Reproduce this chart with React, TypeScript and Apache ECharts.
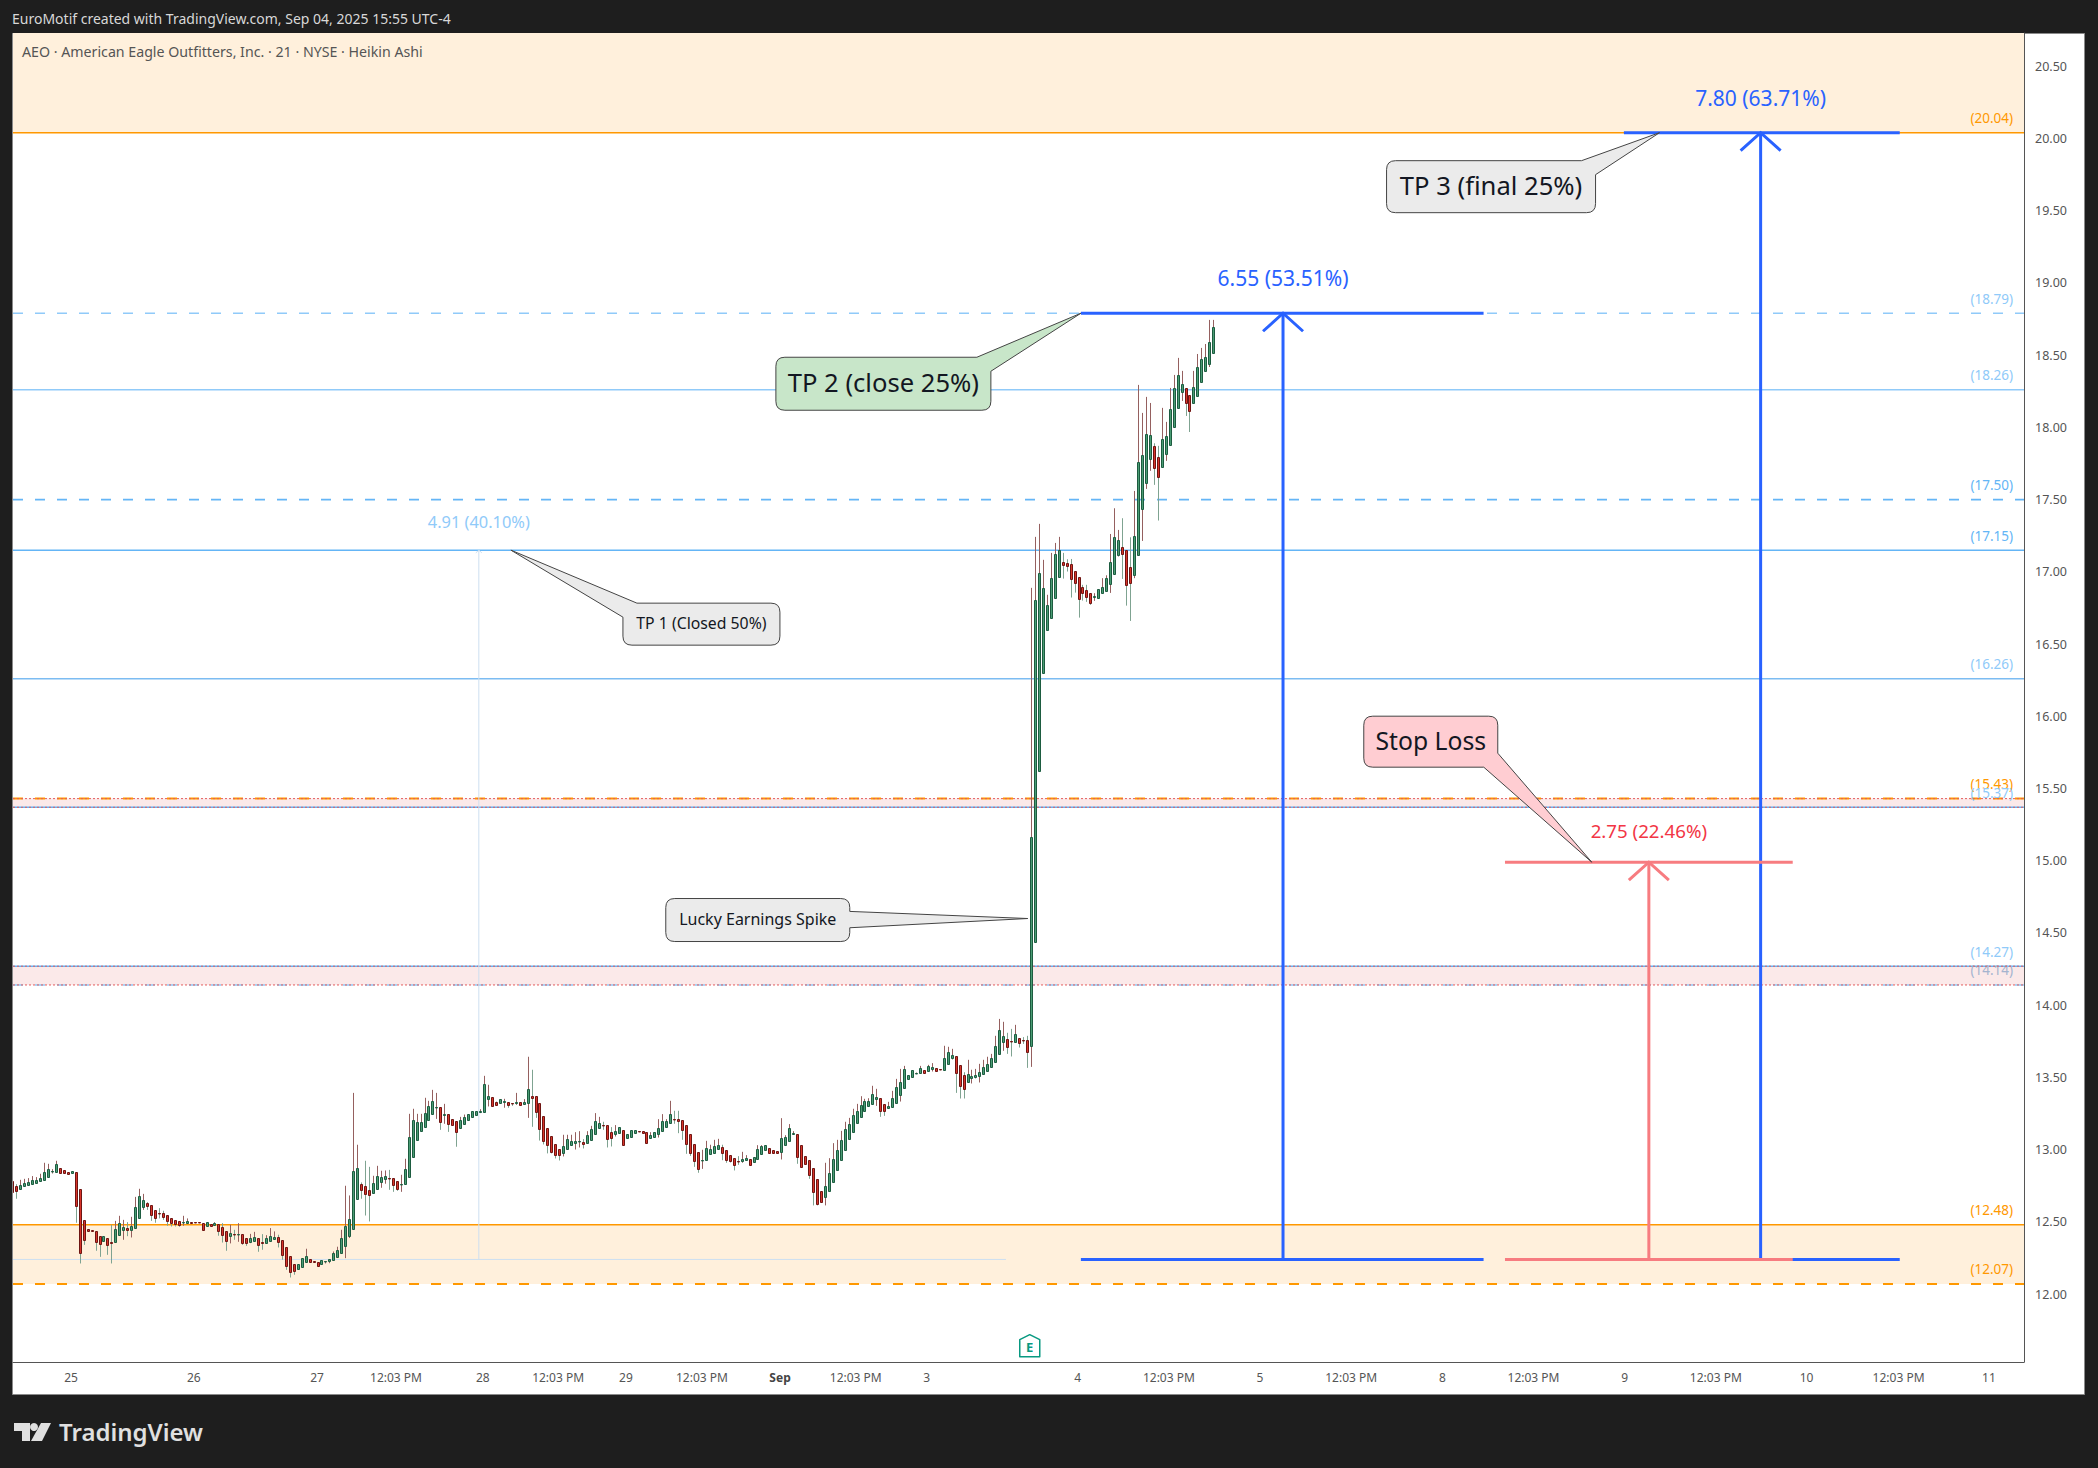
import React, { useEffect, useRef } from "react";
import * as echarts from "echarts";

// Heikin Ashi bars: [open, close, low, high]
const candles = [
	[12.78,12.71,12.71,12.78],[12.747,12.715,12.66,12.761],[12.731,12.754,12.731,12.791],[12.745,12.768,12.745,12.798],[12.752,12.775,12.752,12.803],
	[12.759,12.789,12.759,12.817],[12.768,12.787,12.763,12.81],[12.78,12.803,12.78,12.833],[12.793,12.844,12.793,12.909],[12.814,12.865,12.814,12.902],
	[12.849,12.851,12.835,12.865],[12.842,12.9,12.842,12.923],[12.872,12.835,12.835,12.872],[12.858,12.835,12.835,12.858],[12.844,12.828,12.828,12.844],
	[12.835,12.851,12.835,12.851],[12.844,12.613,12.494,12.844],[12.727,12.288,12.212,12.727],[12.512,12.378,12.341,12.512],[12.45,12.434,12.434,12.45],
	[12.443,12.44,12.431,12.443],[12.436,12.364,12.3,12.436],[12.401,12.344,12.258,12.401],[12.371,12.401,12.371,12.401],[12.387,12.337,12.272,12.387],
	[12.36,12.351,12.212,12.48],[12.36,12.45,12.36,12.507],[12.406,12.491,12.406,12.542],[12.447,12.464,12.376,12.514],[12.457,12.447,12.401,12.498],
	[12.447,12.47,12.392,12.535],[12.461,12.602,12.461,12.673],[12.53,12.678,12.53,12.729],[12.6,12.65,12.583,12.694],[12.63,12.607,12.583,12.637],
	[12.616,12.551,12.507,12.616],[12.581,12.524,12.494,12.581],[12.56,12.558,12.524,12.595],[12.56,12.537,12.514,12.577],[12.547,12.503,12.473,12.547],
	[12.526,12.489,12.468,12.526],[12.512,12.487,12.468,12.512],[12.505,12.48,12.466,12.505],[12.496,12.498,12.473,12.542],[12.489,12.505,12.489,12.524],
	[12.498,12.489,12.489,12.498],[12.498,12.496,12.496,12.498],[12.498,12.496,12.496,12.498],[12.489,12.447,12.447,12.489],[12.468,12.496,12.468,12.496],
	[12.484,12.468,12.468,12.484],[12.475,12.491,12.475,12.498],[12.484,12.44,12.404,12.484],[12.464,12.406,12.357,12.491],[12.436,12.371,12.3,12.436],
	[12.399,12.422,12.351,12.48],[12.415,12.413,12.376,12.445],[12.413,12.415,12.362,12.491],[12.415,12.357,12.341,12.415],[12.387,12.351,12.334,12.387],
	[12.364,12.39,12.353,12.417],[12.371,12.394,12.362,12.431],[12.387,12.337,12.293,12.387],[12.36,12.357,12.307,12.415],[12.357,12.387,12.357,12.408],
	[12.371,12.401,12.371,12.457],[12.383,12.394,12.376,12.434],[12.397,12.358,12.323,12.411],[12.374,12.274,12.238,12.374],[12.325,12.198,12.168,12.325],
	[12.263,12.15,12.115,12.263],[12.208,12.157,12.134,12.208],[12.175,12.208,12.175,12.208],[12.191,12.249,12.191,12.249],[12.221,12.263,12.221,12.314],
	[12.242,12.219,12.219,12.242],[12.228,12.219,12.219,12.228],[12.221,12.198,12.198,12.221],[12.21,12.235,12.21,12.235],[12.226,12.228,12.212,12.228],
	[12.226,12.242,12.214,12.242],[12.233,12.284,12.233,12.295],[12.254,12.304,12.254,12.328],[12.284,12.39,12.284,12.445],[12.33,12.471,12.249,12.75],
	[12.399,12.519,12.388,12.683],[12.454,12.851,12.454,13.393],[12.655,12.872,12.655,13.034],[12.761,12.724,12.66,12.773],[12.75,12.692,12.544,12.923],
	[12.72,12.683,12.503,12.881],[12.697,12.768,12.697,12.819],[12.731,12.817,12.731,12.888],[12.775,12.81,12.736,12.854],[12.794,12.817,12.764,12.856],
	[12.803,12.801,12.722,12.86],[12.803,12.752,12.708,12.803],[12.782,12.731,12.715,12.782],[12.759,12.761,12.708,12.826],[12.759,12.865,12.759,12.937],
	[12.814,13.087,12.814,13.248],[12.946,13.204,12.946,13.283],[13.07,13.19,13.07,13.248],[13.126,13.19,13.126,13.248],[13.16,13.253,13.16,13.359],
	[13.202,13.301,13.202,13.338],[13.25,13.336,13.25,13.414],[13.292,13.294,13.213,13.393],[13.294,13.188,13.137,13.294],[13.243,13.246,13.179,13.317],
	[13.246,13.181,13.123,13.246],[13.211,13.172,13.172,13.211],[13.197,13.119,13.02,13.197],[13.153,13.204,13.153,13.227],[13.181,13.225,13.181,13.243],
	[13.202,13.246,13.202,13.246],[13.223,13.267,13.223,13.267],[13.243,13.267,13.243,13.267],[13.264,13.267,13.253,13.28],[13.26,13.453,13.26,13.511],
	[13.354,13.37,13.299,13.449],[13.363,13.299,13.299,13.363],[13.333,13.306,13.306,13.333],[13.32,13.35,13.32,13.35],[13.333,13.336,13.29,13.352],
	[13.329,13.306,13.29,13.329],[13.322,13.32,13.303,13.322],[13.32,13.333,13.31,13.393],[13.329,13.306,13.306,13.329],[13.313,13.329,13.313,13.35],
	[13.32,13.419,13.22,13.643],[13.368,13.361,13.158,13.553],[13.37,13.264,13.22,13.37],[13.322,13.14,13.063,13.322],[13.232,13.063,13.036,13.232],
	[13.147,13.029,12.974,13.147],[13.093,12.987,12.974,13.093],[13.038,12.96,12.939,13.038],[13.004,12.96,12.925,13.004],[12.98,13.024,12.953,13.103],
	[13.004,13.073,13.004,13.103],[13.031,13.059,13.027,13.103],[13.043,13.059,13.001,13.121],[13.057,13.059,13.015,13.128],[13.052,13.036,13.008,13.073],
	[13.043,13.1,13.043,13.128],[13.07,13.142,13.07,13.165],[13.105,13.197,13.105,13.253],[13.153,13.183,13.153,13.227],[13.172,13.17,13.137,13.193],
	[13.17,13.077,13.015,13.17],[13.121,13.084,13.022,13.156],[13.105,13.128,13.091,13.17],[13.112,13.156,13.112,13.156],[13.135,13.029,13.029,13.135],
	[13.084,13.107,13.084,13.107],[13.091,13.135,13.091,13.135],[13.112,13.135,13.112,13.135],[13.128,13.126,13.126,13.128],[13.128,13.112,13.112,13.128],
	[13.121,13.043,13.043,13.121],[13.084,13.1,13.084,13.121],[13.091,13.121,13.091,13.121],[13.105,13.149,13.084,13.211],[13.126,13.197,13.126,13.246],
	[13.16,13.197,13.16,13.211],[13.183,13.246,13.183,13.338],[13.211,13.209,13.179,13.269],[13.211,13.195,13.114,13.269],[13.204,13.133,13.068,13.204],
	[13.17,13.036,12.971,13.17],[13.107,12.974,12.957,13.107],[13.038,12.918,12.881,13.038],[12.983,12.863,12.84,12.983],[12.925,12.927,12.867,12.999],
	[12.925,13.01,12.925,13.061],[12.967,13.004,12.967,13.034],[12.98,13.024,12.98,13.068],[13.004,13.031,13.004,13.075],[13.017,12.974,12.927,13.034],
	[12.997,12.925,12.909,12.997],[12.962,12.918,12.911,12.962],[12.941,12.897,12.856,12.941],[12.92,12.918,12.895,12.955],[12.918,12.934,12.909,12.985],
	[12.925,12.941,12.925,12.962],[12.934,12.897,12.897,12.934],[12.914,12.948,12.914,12.948],[12.934,13.004,12.934,13.031],[12.967,13.024,12.967,13.031],
	[12.997,13.031,12.997,13.031],[13.01,12.974,12.974,13.01],[12.997,12.974,12.974,12.997],[12.99,12.974,12.974,12.99],[12.983,13.08,12.932,13.218],
	[13.031,13.087,13.031,13.1],[13.059,13.149,13.059,13.177],[13.105,13.114,13.105,13.128],[13.107,12.948,12.902,13.107],[13.031,12.879,12.879,13.031],
	[12.955,12.9,12.9,12.955],[12.927,12.824,12.798,12.927],[12.872,12.71,12.614,12.872],[12.796,12.627,12.614,12.796],[12.713,12.637,12.637,12.713],
	[12.669,12.747,12.614,12.909],[12.713,12.837,12.713,12.941],[12.775,12.934,12.775,13.045],[12.858,12.997,12.858,13.068],[12.927,13.066,12.927,13.13],
	[12.997,13.142,12.997,13.193],[13.073,13.176,13.073,13.22],[13.121,13.239,13.121,13.283],[13.183,13.266,13.183,13.317],[13.225,13.308,13.225,13.37],
	[13.266,13.336,13.266,13.352],[13.301,13.336,13.301,13.356],[13.315,13.384,13.315,13.442],[13.35,13.363,13.303,13.421],[13.356,13.271,13.227,13.356],
	[13.315,13.266,13.234,13.315],[13.287,13.301,13.287,13.331],[13.294,13.356,13.294,13.407],[13.322,13.433,13.322,13.49],[13.377,13.467,13.333,13.559],
	[13.426,13.557,13.426,13.58],[13.488,13.516,13.488,13.516],[13.502,13.55,13.502,13.55],[13.529,13.534,13.529,13.534],[13.529,13.564,13.529,13.58],
	[13.55,13.534,13.534,13.55],[13.541,13.578,13.541,13.587],[13.557,13.571,13.541,13.599],[13.564,13.543,13.543,13.564],[13.557,13.555,13.555,13.557],
	[13.55,13.633,13.55,13.719],[13.592,13.675,13.592,13.712],[13.633,13.654,13.624,13.698],[13.647,13.529,13.393,13.647],[13.585,13.439,13.354,13.585],
	[13.516,13.423,13.354,13.536],[13.467,13.523,13.467,13.622],[13.493,13.509,13.458,13.553],[13.502,13.516,13.493,13.559],[13.509,13.536,13.465,13.594],
	[13.523,13.571,13.523,13.622],[13.543,13.592,13.543,13.643],[13.571,13.633,13.571,13.663],[13.606,13.716,13.606,13.788],[13.661,13.827,13.661,13.905],
	[13.744,13.786,13.684,13.885],[13.765,13.714,13.663,13.809],[13.751,13.749,13.645,13.836],[13.744,13.799,13.744,13.864],[13.772,13.737,13.707,13.772],
	[13.758,13.756,13.732,13.779],[13.758,13.679,13.566,13.788],[13.716,15.163,13.573,16.889],[14.434,16.804,14.434,17.242],[15.618,16.99,15.618,17.332],
	[16.303,16.887,16.303,17.083],[16.594,16.769,16.594,16.841],[16.679,16.956,16.679,17.131],[16.817,17.122,16.817,17.2],[16.967,17.154,16.967,17.242],
	[17.066,17.05,16.953,17.131],[17.059,17.043,17.002,17.087],[17.053,16.953,16.822,17.089],[17.004,16.926,16.856,17.004],[16.963,16.815,16.683,16.963],
	[16.893,16.856,16.801,16.91],[16.873,16.829,16.792,16.91],[16.852,16.787,16.771,16.852],[16.824,16.831,16.799,16.852],[16.822,16.88,16.822,16.88],
	[16.85,16.893,16.85,16.956],[16.87,16.956,16.87,16.976],[16.914,17.066,16.854,17.262],[16.988,17.239,16.988,17.44],[17.113,17.219,17.106,17.29],
	[17.17,17.126,16.951,17.371],[17.149,16.912,16.766,17.149],[17.032,16.926,16.66,17.239],[16.976,17.246,16.956,17.56],[17.113,17.758,17.113,18.294],
	[17.433,17.807,17.214,18.1],[17.618,17.952,17.574,18.211],[17.784,17.945,17.699,18.169],[17.869,17.722,17.602,17.89],[17.793,17.659,17.355,17.872],
	[17.728,17.918,17.728,18.135],[17.818,17.938,17.768,18.038],[17.881,18.125,17.881,18.273],[18.005,18.271,18.005,18.363],[18.137,18.361,18.137,18.481],
	[18.248,18.298,18.183,18.391],[18.271,18.171,18.079,18.271],[18.222,18.116,17.968,18.222],[18.171,18.278,18.171,18.391],[18.22,18.416,18.22,18.508],
	[18.317,18.471,18.317,18.55],[18.393,18.485,18.393,18.577],[18.441,18.589,18.418,18.744],[18.513,18.693,18.513,18.744],
];

const priceTicks = [12, 12.5, 13, 13.5, 14, 14.5, 15, 15.5, 16, 16.5, 17, 17.5, 18, 18.5, 19, 19.5, 20, 20.5];
const timeTickBars = [14.8, 45.8, 76.9, 96.8, 118.7, 137.7, 154.8, 174, 193.7, 212.8, 230.7, 268.8, 291.8, 314.8, 337.8, 360.8, 383.8, 406.8, 429.8, 452.7, 475.9, 498.7];
const timeTickLabels = ["25", "26", "27", "12:03 PM", "28", "12:03 PM", "29", "12:03 PM", "Sep", "12:03 PM", "3", "4", "12:03 PM", "5", "12:03 PM", "8", "12:03 PM", "9", "12:03 PM", "10", "12:03 PM", "11"];

const levelPrices = [20.04, 18.79, 18.26, 17.5, 17.15, 16.26, 15.43, 15.37, 14.27, 14.14, 12.48, 12.07];
const levelLabels = ["(20.04)", "(18.79)", "(18.26)", "(17.50)", "(17.15)", "(16.26)", "(15.43)", "(15.37)", "(14.27)", "(14.14)", "(12.48)", "(12.07)"];

const bandLows = [20.04, 15.37, 14.14, 12.07];
const bandHighs = [20.73, 15.43, 14.27, 12.48];

const tradeLabels = ["4.91 (40.10%)", "6.55 (53.51%)", "7.80 (63.71%)", "2.75 (22.46%)"];
const tradeTops = [17.15, 18.79, 20.04, 14.99];
const tradeBase = 12.24;
const tradeStartBars = [0.17, 269.6, 406.6, 376.6];
const tradeEndBars = [250.7, 371.2, 476.2, 449.2];
const tradeMidBars = [117.7, 320.6, 441.1, 412.9];

const calloutTexts = ["TP 1 (Closed 50%)", "TP 2 (close 25%)", "TP 3 (final 25%)", "Lucky Earnings Spike", "Stop Loss"];
const calloutTipBars = [125.8, 269.6, 415.6, 256.2, 398.5];
const calloutTipPrices = [17.15, 18.79, 20.04, 14.6, 14.99];

const FONT = "'Noto Sans'";
const BLUE = "#2962ff";
const ORANGE = "#ff9800";
const SKY = "#90caf9";
const MID_BLUE = "#64b5f6";

const levelLooks = [
	{ color: ORANGE, width: 1.5, dash: null, text: ORANGE },
	{ color: SKY, width: 1.5, dash: [10, 12], text: SKY },
	{ color: SKY, width: 1.5, dash: null, text: SKY },
	{ color: MID_BLUE, width: 1.8, dash: [10, 12], text: MID_BLUE },
	{ color: MID_BLUE, width: 1.5, dash: null, text: MID_BLUE },
	{ color: "#7cbcf2", width: 1.4, dash: null, text: SKY },
	{ color: ORANGE, width: 2, dash: [10, 12], text: ORANGE },
	{ color: MID_BLUE, width: 1.5, dash: null, text: SKY },
	{ color: MID_BLUE, width: 1.5, dash: null, text: SKY },
	{ color: SKY, width: 1.5, dash: [10, 12], text: "#a5b4cf" },
	{ color: ORANGE, width: 1.5, dash: null, text: ORANGE },
	{ color: ORANGE, width: 2, dash: [10, 12], text: ORANGE },
];

const bandLooks = [
	{ fill: "#fff0dc", edge: null },
	{ fill: "#fbe9e9", edge: "#e35d5d" },
	{ fill: "#fbe9e9", edge: "#e35d5d" },
	{ fill: "#fff0dc", edge: null },
];

const tradeLooks = [
	{ line: "#cddff0", width: 1, text: SKY, size: 16.4, gap: 29, head: 3 },
	{ line: BLUE, width: 3, text: BLUE, size: 21, gap: 35, head: 20 },
	{ line: BLUE, width: 3, text: BLUE, size: 21, gap: 35, head: 20 },
	{ line: "#f77c80", width: 3, text: "#f23645", size: 18.7, gap: 32, head: 20 },
];

// box is left/top/width/height in pixels from the tip, corner is where the tail leaves it
const calloutLooks = [
	{ box: [112, 53, 157, 42], corner: "tl", fill: "#ebebeb", size: 15.8 },
	{ box: [-305, 44, 215, 53], corner: "tr", fill: "#c8e6c9", size: 25.6 },
	{ box: [-273, 28, 209, 52], corner: "tr", fill: "#ebebeb", size: 25.6 },
	{ box: [-362, -20, 184, 43], corner: "r", fill: "#ebebeb", size: 16 },
	{ box: [-228, -146, 134, 51], corner: "br", fill: "#ffcdd2", size: 24.7 },
];

const calloutPath = (tx, ty, look) => {
	const [dx, dy, w, h] = look.box;
	const l = tx + dx;
	const t = ty + dy;
	const r = l + w;
	const b = t + h;
	const rad = 9;
	const cut = 14;
	let d = "";
	// clockwise from the top left corner
	if (look.corner === "tl") d += `M${l} ${t + cut}L${tx} ${ty}L${l + cut} ${t}`;
	else d += `M${l} ${t + rad}Q${l} ${t} ${l + rad} ${t}`;
	if (look.corner === "tr") d += `L${r - cut} ${t}L${tx} ${ty}L${r} ${t + cut}`;
	else d += `L${r - rad} ${t}Q${r} ${t} ${r} ${t + rad}`;
	if (look.corner === "r") d += `L${r} ${t + h * 0.3}L${tx} ${ty}L${r} ${t + h * 0.68}`;
	if (look.corner === "br") d += `L${r} ${b - cut}L${tx} ${ty}L${r - cut} ${b}`;
	else d += `L${r} ${b - rad}Q${r} ${b} ${r - rad} ${b}`;
	d += `L${l + rad} ${b}Q${l} ${b} ${l} ${b - rad}Z`;
	return d;
};

const renderCandle = (params, api) => {
	const i = api.value(0);
	const [open, close, low, high] = candles[params.dataIndex];
	const up = close >= open;
	const cx = Math.round(api.coord([i, open])[0]) + 0.5;
	const yTop = Math.round(api.coord([i, Math.max(open, close)])[1]) + 0.5;
	const yBot = Math.round(api.coord([i, Math.min(open, close)])[1]) + 0.5;
	const yHigh = api.coord([i, high])[1];
	const yLow = api.coord([i, low])[1];
	return {
		type: "group",
		children: [
			{
				type: "line",
				shape: { x1: cx, y1: yHigh, x2: cx, y2: yLow },
				style: { stroke: up ? "#95605f" : "#7fa391", lineWidth: 1 },
			},
			{
				type: "rect",
				shape: { x: cx - 1, y: yTop, width: 2, height: Math.max(yBot - yTop, 0.5) },
				style: {
					fill: up ? "#4a9c74" : "#d8342a",
					stroke: up ? "#1d5c40" : "#6e1512",
					lineWidth: 1,
				},
			},
		],
	};
};

const renderBand = (params, api) => {
	const i = params.dataIndex;
	const [x0, yHigh] = api.coord([0.17, bandHighs[i]]);
	const [x1, yLow] = api.coord([507.55, bandLows[i]]);
	return {
		type: "rect",
		shape: { x: x0, y: yHigh, width: x1 - x0, height: yLow - yHigh },
		style: { fill: bandLooks[i].fill },
	};
};

// dotted red edges of the pink zones sit on top of the level lines
const renderBandEdge = (params, api) => {
	const i = params.dataIndex;
	const edge = bandLooks[i].edge;
	if (!edge) return null;
	const [x0, yHigh] = api.coord([0.17, bandHighs[i]]);
	const [x1, yLow] = api.coord([507.55, bandLows[i]]);
	return {
		type: "group",
		children: [yHigh, yLow].map((y) => ({
			type: "line",
			shape: { x1: x0, y1: y, x2: x1, y2: y },
			style: { stroke: edge, lineWidth: 1, lineDash: [2, 2] },
		})),
	};
};

const renderLevel = (params, api) => {
	const i = params.dataIndex;
	const look = levelLooks[i];
	const [x0, y] = api.coord([0.17, levelPrices[i]]);
	const x1 = api.coord([507.55, levelPrices[i]])[0];
	return {
		type: "group",
		children: [
			{
				type: "line",
				shape: { x1: x0, y1: y, x2: x1, y2: y },
				style: { stroke: look.color, lineWidth: look.width, lineDash: look.dash || "solid" },
			},
			{
				type: "text",
				style: {
					text: levelLabels[i],
					x: x1 - 11,
					y: y - 14.5,
					fill: look.text,
					align: "right",
					verticalAlign: "middle",
					font: `13.5px ${FONT}`,
				},
			},
		],
	};
};

const renderTrade = (params, api) => {
	const i = params.dataIndex;
	const look = tradeLooks[i];
	const [xs, yBase] = api.coord([tradeStartBars[i], tradeBase]);
	const xe = api.coord([tradeEndBars[i], tradeBase])[0];
	const [xm, yTop] = api.coord([tradeMidBars[i], tradeTops[i]]);
	const stroke = { stroke: look.line, lineWidth: look.width };
	const children: any[] = [
		{ type: "line", shape: { x1: xs, y1: yBase, x2: xe, y2: yBase }, style: stroke },
		{ type: "line", shape: { x1: xm, y1: yBase, x2: xm, y2: yTop }, style: stroke },
		{
			type: "polyline",
			shape: { points: [[xm - look.head, yTop + look.head * 0.9], [xm, yTop], [xm + look.head, yTop + look.head * 0.9]] },
			style: { ...stroke, fill: "none" },
		},
		{
			type: "text",
			style: {
				text: tradeLabels[i],
				x: xm,
				y: yTop - look.gap,
				fill: look.text,
				align: "center",
				verticalAlign: "middle",
				font: `${look.size}px ${FONT}`,
			},
		},
	];
	// TP 1 has no top line of its own, the others do
	if (i > 0) {
		children.push({ type: "line", shape: { x1: xs, y1: yTop, x2: xe, y2: yTop }, style: stroke });
	}
	return { type: "group", children };
};

const renderCallout = (params, api) => {
	const i = params.dataIndex;
	const look = calloutLooks[i];
	const [tx, ty] = api.coord([calloutTipBars[i], calloutTipPrices[i]]);
	return {
		type: "group",
		children: [
			{
				type: "path",
				shape: { pathData: calloutPath(tx, ty, look) },
				style: { fill: look.fill, stroke: "#444444", lineWidth: 1 },
			},
			{
				type: "text",
				style: {
					text: calloutTexts[i],
					x: tx + look.box[0] + look.box[2] / 2,
					y: ty + look.box[1] + look.box[3] / 2 - 1,
					fill: "#131722",
					align: "center",
					verticalAlign: "middle",
					font: `${look.size}px ${FONT}`,
				},
			},
		],
	};
};

const renderEarnings = (params, api) => {
	const [x, y] = api.coord([api.value(0), api.value(1)]);
	return {
		type: "group",
		children: [
			{
				type: "polygon",
				shape: { points: [[x, y - 11], [x + 10, y - 6], [x + 10, y + 11], [x - 10, y + 11], [x - 10, y - 6]] },
				style: { fill: "#ffffff", stroke: "#089981", lineWidth: 1.5, lineJoin: "round" },
			},
			{
				type: "text",
				style: { text: "E", x, y: y + 1.5, fill: "#089981", align: "center", verticalAlign: "middle", font: `bold 13px ${FONT}` },
			},
		],
	};
};

const customSeries = (z, renderItem, data, clip = true) => ({
	type: "custom",
	z,
	clip,
	silent: true,
	renderItem,
	data,
	encode: { x: 0, y: 1 },
});

const App = () => {
	const chartRef = useRef(null);

	useEffect(() => {
		const chart = echarts.init(chartRef.current, null, { renderer: "svg" });
		chart.setOption({
			animation: false,
			backgroundColor: "#1e1e1e",
			textStyle: { fontFamily: FONT },
			grid: { left: 13, right: 74, top: 33, bottom: 106, containLabel: false },
			xAxis: {
				type: "value",
				min: 0.17,
				max: 507.55,
				splitLine: { show: false },
				axisTick: { show: false },
				axisLine: { show: true, lineStyle: { color: "#555555", width: 1 } },
				axisLabel: {
					color: "#555555",
					fontSize: 12,
					margin: 9,
					customValues: timeTickBars,
					formatter: (v) => {
						const label = timeTickLabels[timeTickBars.indexOf(v)];
						return label === "Sep" ? "{b|Sep}" : label;
					},
					rich: { b: { fontWeight: "bold", color: "#444444", fontSize: 12, fontFamily: FONT } },
				},
			},
			yAxis: {
				type: "value",
				position: "right",
				min: 11.53,
				max: 20.73,
				splitLine: { show: false },
				axisTick: { show: false },
				axisLine: { show: true, onZero: false, lineStyle: { color: "#555555", width: 1 } },
				axisLabel: {
					color: "#555555",
					fontSize: 12.5,
					margin: 11,
					customValues: priceTicks,
					formatter: (v) => v.toFixed(2),
				},
			},
			graphic: [
				{
					type: "rect",
					z: -10,
					shape: { x: 12.5, y: 33.5, width: 2072, height: 1361 },
					style: { fill: "#ffffff", stroke: "#8a8a8a", lineWidth: 1 },
				},
				{
					type: "text",
					x: 12,
					y: 18,
					style: {
						text: "EuroMotif created with TradingView.com, Sep 04, 2025 15:55 UTC-4",
						fill: "#d8d8d8",
						font: `14px ${FONT}`,
						verticalAlign: "middle",
					},
				},
				{
					type: "text",
					x: 22,
					y: 51,
					z: 20,
					style: {
						text: "AEO · American Eagle Outfitters, Inc. · 21 · NYSE · Heikin Ashi",
						fill: "#555555",
						font: `14.2px ${FONT}`,
						verticalAlign: "middle",
					},
				},
				{
					type: "polygon",
					shape: { points: [[14, 1423], [30, 1423], [30, 1441], [22, 1441], [22, 1431], [14, 1431]] },
					style: { fill: "#e0e0e0" },
				},
				{ type: "circle", shape: { cx: 34, cy: 1427, r: 4 }, style: { fill: "#e0e0e0" } },
				{
					type: "polygon",
					shape: { points: [[41, 1423], [51, 1423], [42, 1441], [31, 1441]] },
					style: { fill: "#e0e0e0" },
				},
				{
					type: "text",
					x: 59,
					y: 1431,
					style: { text: "TradingView", fill: "#e0e0e0", font: `600 24px ${FONT}`, verticalAlign: "middle" },
				},
			],
			series: [
				customSeries(1, renderBand, bandLows.map((p, i) => [i, p])),
				customSeries(2, renderLevel, levelPrices.map((p, i) => [i, p])),
				customSeries(2.5, renderBandEdge, bandLows.map((p, i) => [i, p])),
				customSeries(3, renderTrade, tradeTops.map((p, i) => [i, p])),
				customSeries(4, renderCandle, candles.map((c, i) => [i, c[0]])),
				customSeries(5, renderCallout, calloutTexts.map((_, i) => [i, calloutTipPrices[i]])),
				customSeries(5, renderEarnings, [[256.7, 11.643]]),
			],
		});
		return () => {
			chart.dispose();
		};
	}, []);

	return (
		<div
			ref={chartRef}
			style={{ position: "fixed", left: 0, top: 0, width: "2098px", height: "1468px" }}
		/>
	);
};

export default App;
